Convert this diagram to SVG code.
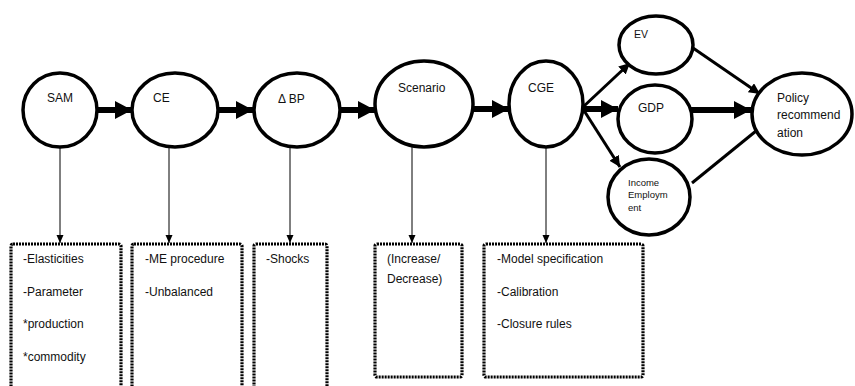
<svg xmlns="http://www.w3.org/2000/svg" width="855" height="386" viewBox="0 0 855 386">
<defs>
<style>
.node{fill:#fff;stroke:#000;stroke-width:3.5}
.t{font-family:"Liberation Sans",Arial,sans-serif;font-size:12px;fill:#111}
.s{font-family:"Liberation Sans",Arial,sans-serif;font-size:9.5px;fill:#111}
.box{fill:none;stroke:#000;stroke-width:3.2;stroke-dasharray:2 1}
.thick{stroke:#000;stroke-width:6;fill:none}
.med{stroke:#000;stroke-width:3;fill:none}
.thin{stroke:#000;stroke-width:1;fill:none}
</style>
<marker id="big" markerUnits="userSpaceOnUse" markerWidth="18" markerHeight="18" refX="17" refY="9" orient="auto"><path d="M0,0 L17,9 L0,18 z" fill="#000"/></marker>
<marker id="mid" markerUnits="userSpaceOnUse" markerWidth="12" markerHeight="12" refX="11" refY="5.5" orient="auto"><path d="M0,0 L11,5.5 L0,11 z" fill="#000"/></marker>
<marker id="sm" markerUnits="userSpaceOnUse" markerWidth="9" markerHeight="8" refX="8" refY="3.5" orient="auto"><path d="M0,0 L8,3.5 L0,7 z" fill="#000"/></marker>
</defs>
<rect width="855" height="386" fill="#fff"/>
<g id="connectors">
<line class="thick" x1="97" y1="110" x2="132" y2="110" marker-end="url(#big)"/>
<line class="thick" x1="218" y1="110" x2="253" y2="110" marker-end="url(#big)"/>
<line class="thick" x1="340" y1="110" x2="375" y2="110" marker-end="url(#big)"/>
<line class="thick" x1="473" y1="109" x2="509" y2="109" marker-end="url(#big)"/>
<line class="thick" x1="583" y1="109" x2="618" y2="109" marker-end="url(#big)"/>
<line class="med" x1="583" y1="107" x2="630" y2="63" marker-end="url(#mid)"/>
<line class="med" x1="583" y1="109" x2="620" y2="167" marker-end="url(#mid)"/>
<line class="thick" x1="679" y1="110" x2="751" y2="110" marker-end="url(#big)"/>
<line class="med" x1="693" y1="48" x2="760" y2="94" marker-end="url(#mid)"/>
<line class="med" x1="692" y1="183" x2="756" y2="131"/>
<line class="thin" x1="60" y1="147" x2="60" y2="243" marker-end="url(#sm)"/>
<line class="thin" x1="169" y1="147" x2="169" y2="243" marker-end="url(#sm)"/>
<line class="thin" x1="290" y1="147" x2="290" y2="243" marker-end="url(#sm)"/>
<line class="thin" x1="412" y1="147" x2="412" y2="243" marker-end="url(#sm)"/>
<line class="thin" x1="546" y1="147" x2="546" y2="243" marker-end="url(#sm)"/>
</g>
<g id="sam"><ellipse class="node" cx="60" cy="110" rx="37" ry="37"/><text class="t" x="47" y="102">SAM</text></g>
<g id="ce"><ellipse class="node" cx="175" cy="110" rx="43" ry="37"/><text class="t" x="153" y="102">CE</text></g>
<g id="dbp"><ellipse class="node" cx="297" cy="110" rx="43" ry="37"/><text class="t" x="278" y="103">Δ BP</text></g>
<g id="scenario"><ellipse class="node" cx="424" cy="104" rx="49" ry="43"/><text class="t" x="398" y="92">Scenario</text></g>
<g id="cge"><ellipse class="node" cx="546" cy="104" rx="37" ry="43"/><text class="t" x="528" y="92">CGE</text></g>
<g id="ev"><ellipse class="node" cx="656" cy="45" rx="37" ry="29"/><text class="s" style="font-size:10.5px" x="634" y="38">EV</text></g>
<g id="gdp"><ellipse class="node" cx="655" cy="119" rx="37" ry="34"/><text class="t" x="638" y="112">GDP</text></g>
<g id="income"><ellipse class="node" cx="649" cy="197" rx="41" ry="38"/><text class="s" x="628" y="186">Income</text><text class="s" x="628" y="198">Employm</text><text class="s" x="628" y="211">ent</text></g>
<g id="policy"><ellipse class="node" cx="802" cy="114" rx="50" ry="41"/><text class="t" x="777" y="102">Policy</text><text class="t" x="777" y="119">recommend</text><text class="t" x="777" y="137">ation</text></g>
<g id="box-sam"><rect class="box" x="11" y="244" width="110" height="150" rx="2"/><text class="t" x="23" y="263">-Elasticities</text><text class="t" x="23" y="296">-Parameter</text><text class="t" x="23" y="328">*production</text><text class="t" x="23" y="361">*commodity</text></g>
<g id="box-ce"><rect class="box" x="132" y="244" width="110" height="150" rx="2"/><text class="t" x="145" y="263">-ME procedure</text><text class="t" x="145" y="296">-Unbalanced</text></g>
<g id="box-bp"><rect class="box" x="254" y="244" width="73" height="150" rx="2"/><text class="t" x="266" y="263">-Shocks</text></g>
<g id="box-scenario"><rect class="box" x="375" y="244" width="87" height="133" rx="2"/><text class="t" x="387" y="263">(Increase/</text><text class="t" x="387" y="283">Decrease)</text></g>
<g id="box-cge"><rect class="box" x="484" y="244" width="159" height="133" rx="2"/><text class="t" x="497" y="263">-Model specification</text><text class="t" x="497" y="296">-Calibration</text><text class="t" x="497" y="328">-Closure rules</text></g>
</svg>
